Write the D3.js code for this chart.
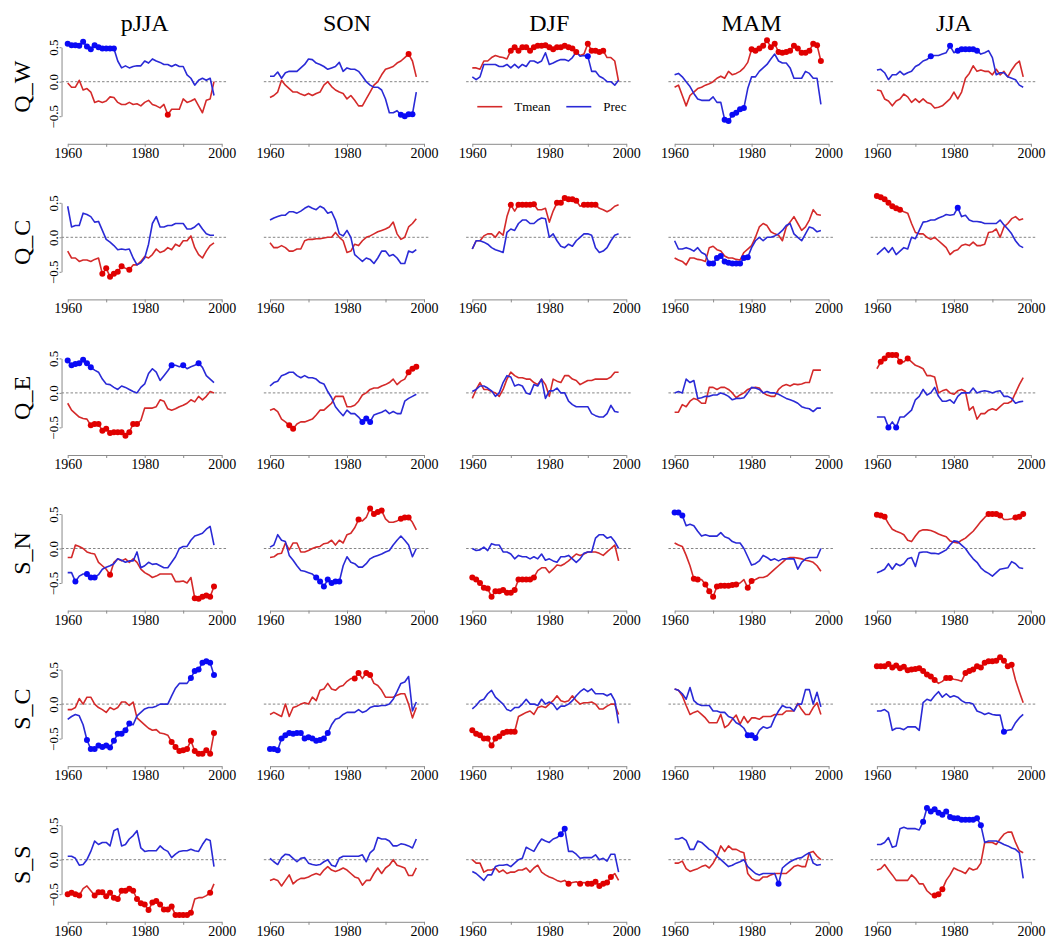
<!DOCTYPE html>
<html>
<head>
<meta charset="utf-8">
<script src="https://cdn.jsdelivr.net/npm/d3@7"></script>
<style>
  body { margin: 0; background: #fff; }
  svg { display: block; }
  text { font-family: "Liberation Serif", "DejaVu Serif", serif; }
</style>
</head>
<body>
<svg id="chart" width="1051" height="943"></svg>
<script>
// Moving correlations of regional indices with seasonal Tmean and precipitation, 1960-1998
const seasons = ["pJJA", "SON", "DJF", "MAM", "JJA"];
const regions = ["Q_W", "Q_C", "Q_E", "S_N", "S_C", "S_S"];
const years = [1960,1961,1962,1963,1964,1965,1966,1967,1968,1969,
               1970,1971,1972,1973,1974,1975,1976,1977,1978,1979,
               1980,1981,1982,1983,1984,1985,1986,1987,1988,1989,
               1990,1991,1992,1993,1994,1995,1996,1997,1998];
const xTicks = [1960, 1970, 1980, 1990, 2000];
const xTickLabels = [1960, 1980, 2000];
const yTicks = [-0.5, 0.0, 0.5];

// ---- Q_W ----
const tmeanQW = [
  [-0.02,-0.08,-0.08,0.02,-0.12,-0.10,-0.15,-0.30,-0.28,-0.30, -0.28,-0.22,-0.23,-0.30,-0.33,-0.33,-0.30,-0.33,-0.32,-0.35, -0.30,-0.27,-0.33,-0.35,-0.38,-0.33,-0.48,-0.40,-0.40,-0.40, -0.25,-0.30,-0.28,-0.25,-0.35,-0.45,-0.27,-0.25,0.00],
  [-0.23,-0.20,-0.15,0.02,-0.05,-0.10,-0.15,-0.15,-0.18,-0.20, -0.17,-0.20,-0.17,-0.15,-0.05,0.00,-0.07,-0.12,-0.15,-0.17, -0.25,-0.20,-0.27,-0.35,-0.35,-0.25,-0.15,-0.05,0.00,0.10, 0.18,0.20,0.22,0.27,0.30,0.35,0.40,0.30,0.07],
  [0.20,0.20,0.18,0.30,0.30,0.35,0.38,0.36,0.35,0.33, 0.45,0.50,0.45,0.50,0.50,0.45,0.50,0.52,0.52,0.53, 0.50,0.47,0.50,0.50,0.52,0.50,0.48,0.43,0.38,0.40, 0.55,0.45,0.45,0.43,0.45,0.35,0.35,0.30,0.00],
  [-0.08,-0.05,-0.20,-0.35,-0.20,-0.15,-0.10,-0.08,-0.05,-0.03, 0.00,0.05,0.08,0.05,0.15,0.10,0.12,0.15,0.20,0.28, 0.47,0.45,0.48,0.52,0.60,0.50,0.55,0.43,0.42,0.43, 0.45,0.52,0.48,0.42,0.42,0.45,0.55,0.53,0.30],
  [-0.12,-0.13,-0.25,-0.28,-0.35,-0.28,-0.25,-0.18,-0.22,-0.30, -0.25,-0.30,-0.25,-0.30,-0.32,-0.38,-0.37,-0.35,-0.30,-0.25, -0.15,-0.25,-0.15,0.05,0.12,0.23,0.15,0.17,0.15,0.15, 0.10,0.18,0.10,0.15,0.07,0.17,0.25,0.30,0.07]
];
const precQW = [
  [0.55,0.53,0.53,0.52,0.58,0.51,0.47,0.53,0.50,0.48, 0.48,0.48,0.48,0.30,0.20,0.23,0.20,0.22,0.23,0.23, 0.30,0.27,0.33,0.30,0.28,0.25,0.25,0.22,0.25,0.22, 0.22,0.10,0.05,-0.05,0.02,0.05,0.02,0.05,-0.20],
  [0.08,0.08,0.14,0.05,0.13,0.15,0.15,0.15,0.20,0.25, 0.33,0.32,0.27,0.25,0.22,0.18,0.20,0.22,0.28,0.15, 0.20,0.18,0.18,0.15,0.08,0.00,-0.05,-0.08,-0.08,-0.12, -0.25,-0.45,-0.45,-0.42,-0.48,-0.50,-0.47,-0.47,-0.15],
  [0.07,0.03,0.07,0.25,0.25,0.25,0.25,0.22,0.22,0.25, 0.20,0.25,0.20,0.25,0.22,0.30,0.30,0.27,0.30,0.42, 0.25,0.27,0.30,0.32,0.32,0.30,0.35,0.43,0.37,0.38, 0.37,0.15,0.15,0.08,0.05,0.00,0.00,-0.05,0.02],
  [0.10,0.12,0.07,0.00,-0.07,-0.17,-0.25,-0.27,-0.27,-0.27, -0.22,-0.30,-0.30,-0.55,-0.57,-0.48,-0.45,-0.40,-0.38,-0.10, 0.07,0.07,0.15,0.20,0.25,0.33,0.40,0.30,0.27,0.27, 0.20,0.05,0.05,0.05,0.15,0.12,0.05,0.05,-0.33],
  [0.17,0.18,0.13,0.03,0.10,0.10,0.15,0.10,0.13,0.15, 0.22,0.25,0.30,0.32,0.37,0.38,0.38,0.40,0.42,0.52, 0.42,0.45,0.47,0.47,0.47,0.47,0.45,0.40,0.42,0.45, 0.35,0.10,0.13,0.13,0.07,0.05,0.03,-0.05,-0.08]
];
const sigTmeanQW = [
  [1986],
  [1996],
  [1970,1971,1972,1973,1974,1975,1976,1977,1978,1979,1980,1981,1982,1983,1984,1985,1986,1987,1990,1991,1992,1993,1994],
  [1980,1981,1982,1983,1984,1985,1986,1987,1988,1989,1990,1991,1992,1993,1994,1995,1996,1997,1998],
  []
];
const sigPrecQW = [
  [1960,1961,1962,1963,1964,1965,1966,1967,1968,1969,1970,1971,1972],
  [1994,1995,1996,1997],
  [1990],
  [1973,1974,1975,1976,1977,1978],
  [1974,1979,1981,1982,1983,1984,1985,1986]
];

// ---- Q_C ----
const tmeanQC = [
  [-0.20,-0.30,-0.30,-0.35,-0.33,-0.33,-0.35,-0.32,-0.30,-0.53, -0.45,-0.57,-0.53,-0.50,-0.42,-0.45,-0.47,-0.40,-0.40,-0.35, -0.28,-0.30,-0.25,-0.17,-0.22,-0.20,-0.15,-0.18,-0.10,-0.13, -0.05,-0.05,0.02,-0.15,-0.25,-0.30,-0.20,-0.12,-0.08],
  [-0.08,-0.15,-0.15,-0.12,-0.15,-0.20,-0.20,-0.17,-0.17,-0.05, -0.03,-0.03,-0.02,-0.02,-0.01,0.00,0.00,0.07,0.00,-0.05, -0.22,-0.20,-0.10,-0.12,-0.05,0.00,0.02,0.05,0.08,0.10, 0.12,0.15,0.22,0.05,-0.03,0.00,0.15,0.20,0.27],
  [-0.17,-0.05,-0.05,0.02,0.05,0.05,0.00,0.08,0.03,0.30, 0.47,0.38,0.47,0.47,0.47,0.47,0.48,0.40,0.40,0.42, 0.22,0.38,0.50,0.50,0.57,0.55,0.55,0.53,0.45,0.47, 0.47,0.47,0.47,0.42,0.40,0.37,0.40,0.45,0.47],
  [-0.30,-0.33,-0.35,-0.40,-0.30,-0.30,-0.32,-0.33,-0.35,-0.15, -0.13,-0.18,-0.20,-0.27,-0.30,-0.30,-0.32,-0.33,-0.22,-0.17, -0.12,0.00,0.15,0.20,0.17,0.08,0.05,0.03,-0.05,0.15, 0.22,0.30,0.20,0.10,0.15,0.25,0.40,0.33,0.32],
  [0.60,0.58,0.55,0.50,0.45,0.42,0.40,0.37,0.35,0.20, 0.07,0.05,0.05,0.00,-0.03,0.00,-0.05,-0.10,-0.15,-0.25, -0.20,-0.18,-0.12,-0.10,-0.12,-0.07,-0.12,-0.12,-0.10,0.07, 0.08,0.12,0.00,0.15,0.20,0.27,0.30,0.25,0.27]
];
const precQC = [
  [0.45,0.15,0.17,0.17,0.35,0.33,0.30,0.22,0.23,0.10, -0.03,-0.07,-0.12,-0.18,-0.17,-0.18,-0.17,-0.30,-0.40,-0.37, -0.30,-0.10,0.20,0.30,0.15,0.15,0.17,0.17,0.20,0.20, 0.20,0.12,0.12,0.15,0.20,0.12,0.05,0.03,0.03],
  [0.25,0.28,0.30,0.32,0.32,0.37,0.37,0.35,0.38,0.42, 0.45,0.42,0.40,0.45,0.42,0.35,0.37,0.25,0.05,0.02, 0.10,0.00,-0.25,-0.30,-0.35,-0.30,-0.32,-0.38,-0.30,-0.20, -0.20,-0.27,-0.25,-0.30,-0.38,-0.38,-0.20,-0.22,-0.18],
  [-0.17,-0.05,-0.05,-0.07,-0.10,-0.15,-0.18,-0.20,-0.22,0.07, 0.12,0.10,0.20,0.25,0.25,0.20,0.20,0.25,0.28,0.27, 0.00,0.05,-0.05,-0.13,-0.15,-0.10,-0.13,-0.05,0.00,0.05, 0.05,0.03,-0.15,-0.22,-0.20,-0.15,-0.05,0.03,0.05],
  [-0.05,-0.17,-0.17,-0.15,-0.17,-0.20,-0.15,-0.22,-0.25,-0.38, -0.38,-0.30,-0.27,-0.35,-0.37,-0.38,-0.38,-0.38,-0.30,-0.29, -0.15,-0.05,0.00,-0.05,0.00,0.00,0.02,0.05,0.10,0.17, 0.20,0.05,0.00,-0.05,0.05,0.15,0.13,0.08,0.10],
  [-0.25,-0.20,-0.15,-0.22,-0.15,-0.25,-0.20,-0.15,-0.17,0.00, -0.02,0.10,0.22,0.23,0.25,0.25,0.28,0.30,0.33,0.32, 0.33,0.43,0.30,0.32,0.25,0.23,0.23,0.22,0.20,0.20, 0.20,0.20,0.25,0.18,0.12,0.05,-0.05,-0.12,-0.15]
];
const sigTmeanQC = [
  [1969,1970,1971,1972,1973,1974,1976],
  [],
  [1970,1972,1973,1974,1975,1976,1982,1983,1984,1985,1986,1987,1989,1990,1991,1992],
  [],
  [1960,1961,1962,1963,1964,1965,1966]
];
const sigPrecQC = [
  [],
  [],
  [],
  [1969,1970,1971,1972,1973,1974,1975,1976,1977,1978,1979],
  [1981]
];

// ---- Q_E ----
const tmeanQE = [
  [-0.15,-0.25,-0.30,-0.35,-0.37,-0.38,-0.47,-0.45,-0.45,-0.55, -0.52,-0.58,-0.57,-0.57,-0.57,-0.62,-0.57,-0.45,-0.45,-0.40, -0.22,-0.22,-0.22,-0.20,-0.10,-0.12,-0.23,-0.25,-0.23,-0.20, -0.18,-0.15,-0.10,-0.13,-0.05,-0.10,-0.05,0.02,0.00],
  [-0.25,-0.23,-0.27,-0.38,-0.42,-0.47,-0.52,-0.45,-0.42,-0.42, -0.40,-0.38,-0.32,-0.25,-0.25,-0.20,-0.15,-0.05,-0.05,-0.05, -0.20,-0.20,-0.18,-0.12,-0.03,0.00,0.05,0.07,0.07,0.10, 0.12,0.15,0.20,0.12,0.17,0.20,0.30,0.35,0.38],
  [-0.08,0.05,0.15,0.05,0.05,0.02,0.00,-0.05,0.05,0.20, 0.30,0.25,0.22,0.22,0.20,0.20,0.15,0.12,0.20,0.12, -0.05,0.20,0.17,0.15,0.25,0.25,0.20,0.18,0.12,0.15, 0.18,0.18,0.20,0.20,0.20,0.20,0.23,0.30,0.30],
  [-0.28,-0.28,-0.17,-0.20,-0.12,-0.08,-0.10,-0.15,-0.15,0.08, 0.08,0.05,0.08,0.08,0.05,0.00,-0.07,-0.03,0.00,0.05, 0.07,0.08,0.07,0.00,-0.03,-0.05,-0.05,0.05,0.10,0.12, 0.10,0.13,0.12,0.13,0.15,0.15,0.33,0.33,0.33],
  [0.35,0.45,0.50,0.55,0.55,0.55,0.45,0.45,0.50,0.45, 0.40,0.38,0.35,0.25,0.25,0.23,0.00,0.03,0.05,0.00, -0.02,0.03,0.05,0.02,-0.25,-0.20,-0.38,-0.30,-0.30,-0.25, -0.23,-0.25,-0.20,-0.15,-0.15,-0.12,0.00,0.12,0.22]
];
const precQE = [
  [0.47,0.40,0.42,0.43,0.48,0.43,0.37,0.33,0.30,0.20, 0.13,0.12,0.08,0.05,0.10,0.08,0.05,0.02,0.00,0.08, 0.13,0.28,0.35,0.30,0.18,0.25,0.32,0.40,0.40,0.38, 0.40,0.35,0.38,0.40,0.43,0.37,0.25,0.20,0.15],
  [0.10,0.15,0.17,0.25,0.27,0.30,0.30,0.25,0.22,0.25, 0.22,0.22,0.20,0.15,0.13,0.02,-0.07,-0.20,-0.27,-0.33, -0.25,-0.30,-0.30,-0.35,-0.42,-0.37,-0.42,-0.32,-0.30,-0.28, -0.25,-0.30,-0.27,-0.30,-0.30,-0.12,-0.08,-0.05,-0.02],
  [0.02,0.05,0.10,0.10,0.07,0.03,-0.05,0.00,0.15,0.25, 0.23,0.10,0.12,0.10,0.00,-0.02,0.12,0.10,0.20,-0.08, 0.03,0.03,0.07,0.00,0.00,-0.12,-0.17,-0.20,-0.20,-0.20, -0.20,-0.30,-0.33,-0.35,-0.35,-0.30,-0.18,-0.27,-0.28],
  [0.00,0.02,0.00,0.20,0.15,0.18,-0.08,-0.07,-0.05,-0.05, -0.03,-0.03,0.00,-0.02,-0.05,-0.10,-0.08,-0.08,-0.07,0.00, 0.08,0.07,0.05,0.00,0.02,0.00,0.00,-0.02,-0.05,-0.08, -0.10,-0.12,-0.15,-0.20,-0.22,-0.23,-0.27,-0.22,-0.22],
  [-0.35,-0.35,-0.35,-0.50,-0.42,-0.50,-0.35,-0.35,-0.30,-0.25, -0.10,-0.05,0.05,-0.03,0.00,0.08,-0.05,-0.12,-0.12,-0.10, -0.15,-0.05,0.00,0.00,0.00,0.07,0.00,0.02,0.03,0.02, 0.00,0.02,0.03,-0.05,-0.05,-0.08,-0.15,-0.13,-0.12]
];
const sigTmeanQE = [
  [1966,1967,1968,1969,1970,1971,1972,1973,1974,1975,1976,1977,1978],
  [1965,1966,1996,1997,1998],
  [],
  [],
  [1961,1962,1963,1964,1965,1966,1968]
];
const sigPrecQE = [
  [1960,1961,1962,1963,1964,1965,1966,1987,1990,1994],
  [1984,1985,1986],
  [],
  [],
  [1963,1965]
];

// ---- S_N ----
const tmeanSN = [
  [-0.13,-0.13,0.05,0.03,0.00,-0.05,-0.07,-0.08,-0.20,-0.25, -0.30,-0.38,-0.20,-0.15,-0.18,-0.15,-0.20,-0.15,-0.20,-0.30, -0.35,-0.38,-0.42,-0.40,-0.37,-0.37,-0.37,-0.37,-0.48,-0.48, -0.47,-0.50,-0.42,-0.72,-0.73,-0.70,-0.68,-0.70,-0.55],
  [-0.13,-0.12,-0.08,-0.07,0.08,-0.02,0.08,0.08,-0.05,-0.05, -0.03,0.00,0.02,0.03,0.07,0.08,0.12,0.05,0.12,0.08, 0.20,0.22,0.30,0.42,0.40,0.45,0.58,0.50,0.53,0.55, 0.43,0.38,0.38,0.40,0.43,0.45,0.45,0.38,0.27],
  [-0.42,-0.45,-0.50,-0.57,-0.58,-0.70,-0.62,-0.62,-0.60,-0.64, -0.64,-0.60,-0.45,-0.45,-0.45,-0.45,-0.42,-0.32,-0.28,-0.28, -0.35,-0.30,-0.24,-0.25,-0.22,-0.18,-0.13,-0.08,-0.10,-0.08, -0.05,-0.05,-0.05,-0.07,-0.10,-0.05,0.00,0.05,-0.18],
  [0.08,0.05,0.03,-0.10,-0.25,-0.44,-0.45,-0.45,-0.52,-0.62, -0.70,-0.55,-0.54,-0.54,-0.54,-0.53,-0.52,-0.50,-0.45,-0.57, -0.47,-0.45,-0.42,-0.42,-0.40,-0.35,-0.30,-0.25,-0.20,-0.15, -0.13,-0.13,-0.14,-0.15,-0.17,-0.18,-0.20,-0.25,-0.33],
  [0.49,0.48,0.46,0.36,0.28,0.25,0.23,0.20,0.12,0.10, 0.18,0.25,0.27,0.27,0.26,0.24,0.21,0.19,0.17,0.11, 0.09,0.08,0.12,0.15,0.20,0.25,0.32,0.39,0.45,0.50, 0.50,0.50,0.48,0.42,0.42,0.43,0.45,0.46,0.50]
];
const precSN = [
  [-0.35,-0.35,-0.48,-0.40,-0.37,-0.37,-0.42,-0.42,-0.38,-0.30, -0.27,-0.25,-0.22,-0.15,-0.17,-0.20,-0.18,-0.18,-0.05,-0.28, -0.25,-0.20,-0.23,-0.22,-0.25,-0.28,-0.28,-0.20,-0.12,0.00, 0.03,0.03,0.12,0.18,0.20,0.22,0.28,0.32,0.05],
  [0.02,0.05,0.20,0.12,0.10,-0.10,-0.17,-0.25,-0.32,-0.33, -0.35,-0.37,-0.42,-0.48,-0.55,-0.45,-0.50,-0.48,-0.48,-0.25, -0.12,-0.20,-0.22,-0.27,-0.27,-0.22,-0.15,-0.12,-0.10,-0.08, -0.05,-0.03,0.05,0.12,0.18,0.12,0.05,-0.12,0.00],
  [0.00,-0.03,-0.02,0.02,-0.03,0.07,0.05,0.05,-0.05,-0.05, -0.08,-0.15,-0.10,-0.12,-0.12,-0.15,-0.12,-0.15,-0.08,-0.17, -0.15,-0.18,-0.20,-0.12,-0.12,-0.10,-0.15,-0.20,-0.15,-0.07, -0.05,-0.05,0.15,0.20,0.20,0.15,0.17,0.10,0.00],
  [0.52,0.52,0.48,0.33,0.35,0.33,0.25,0.18,0.20,0.18, 0.18,0.18,0.23,0.17,0.15,0.10,0.08,0.08,0.00,-0.12, -0.24,-0.22,-0.18,-0.10,-0.13,-0.17,-0.15,-0.18,-0.15,-0.15, -0.15,-0.15,-0.30,-0.20,-0.15,-0.13,-0.13,-0.13,0.00],
  [-0.35,-0.33,-0.30,-0.22,-0.30,-0.22,-0.25,-0.22,-0.15,-0.13, -0.26,-0.06,-0.05,-0.05,-0.07,-0.07,-0.08,-0.05,-0.02,0.05, 0.11,0.10,0.05,0.00,-0.08,-0.15,-0.20,-0.28,-0.33,-0.36, -0.40,-0.35,-0.30,-0.29,-0.28,-0.19,-0.22,-0.28,-0.29]
];
const sigTmeanSN = [
  [1971,1993,1994,1995,1996,1997,1998],
  [1983,1986,1987,1988,1989,1994,1995,1996],
  [1960,1961,1962,1963,1964,1965,1966,1967,1968,1969,1970,1971,1972,1973,1974,1975,1976],
  [1965,1966,1968,1969,1970,1971,1972,1973,1974,1975,1976,1979,1980],
  [1960,1961,1962,1989,1990,1991,1992,1996,1997,1998]
];
const sigPrecSN = [
  [1962,1965,1966,1967],
  [1972,1973,1974,1975,1976,1977,1978],
  [],
  [1960,1961,1962],
  []
];

// ---- S_C ----
const tmeanSC = [
  [-0.08,-0.08,-0.05,0.08,0.00,0.10,0.10,0.00,-0.05,-0.08, -0.12,-0.05,-0.08,-0.05,0.03,0.03,-0.02,0.03,-0.20,-0.25, -0.30,-0.35,-0.38,-0.37,-0.42,-0.43,-0.45,-0.55,-0.62,-0.68, -0.67,-0.65,-0.53,-0.68,-0.72,-0.72,-0.67,-0.72,-0.42],
  [-0.15,-0.12,-0.15,-0.18,0.00,-0.18,-0.05,-0.03,0.00,0.02, 0.00,0.10,0.05,0.20,0.22,0.30,0.22,0.20,0.25,0.27, 0.33,0.37,0.37,0.45,0.37,0.45,0.42,0.30,0.27,0.20, 0.10,0.10,0.10,0.13,0.15,0.15,0.00,-0.20,-0.05],
  [-0.38,-0.43,-0.45,-0.50,-0.50,-0.60,-0.50,-0.47,-0.42,-0.40, -0.40,-0.40,-0.18,-0.15,-0.12,-0.10,-0.15,-0.05,-0.03,-0.05, 0.00,0.05,0.12,0.05,0.03,0.05,0.12,0.05,0.00,0.02, 0.02,0.03,0.00,-0.07,-0.07,-0.03,0.00,0.00,-0.15],
  [0.22,0.20,0.12,-0.02,-0.15,-0.12,-0.10,-0.15,-0.20,-0.27, -0.27,-0.27,-0.15,-0.34,-0.30,-0.22,-0.16,-0.29,-0.18,-0.27, -0.20,-0.20,-0.22,-0.18,-0.18,-0.18,-0.15,-0.15,-0.15,-0.10, -0.10,-0.10,0.01,-0.08,-0.15,-0.15,-0.05,0.02,-0.15],
  [0.55,0.55,0.55,0.58,0.53,0.56,0.52,0.54,0.49,0.50, 0.51,0.52,0.48,0.43,0.40,0.35,0.30,0.33,0.38,0.38, 0.36,0.35,0.33,0.45,0.48,0.50,0.55,0.53,0.60,0.62, 0.62,0.63,0.68,0.63,0.55,0.57,0.35,0.18,0.02]
];
const precSC = [
  [-0.22,-0.18,-0.15,-0.17,-0.30,-0.52,-0.65,-0.65,-0.60,-0.62, -0.60,-0.63,-0.53,-0.43,-0.43,-0.38,-0.28,-0.30,-0.17,-0.12, -0.07,-0.05,-0.05,-0.03,0.00,0.00,0.00,0.12,0.23,0.30, 0.30,0.30,0.38,0.48,0.50,0.60,0.62,0.60,0.42],
  [-0.65,-0.65,-0.67,-0.50,-0.45,-0.42,-0.43,-0.42,-0.42,-0.50, -0.48,-0.50,-0.53,-0.52,-0.50,-0.42,-0.30,-0.22,-0.20,-0.15, -0.12,-0.12,-0.12,-0.08,-0.12,-0.10,-0.05,-0.03,-0.03,-0.02, -0.02,0.00,0.07,0.18,0.30,0.32,0.40,-0.10,0.03],
  [-0.07,-0.02,0.05,0.07,0.15,0.20,0.10,0.05,0.00,-0.08, -0.10,-0.05,-0.05,0.00,0.07,0.00,0.00,-0.02,0.07,0.00, 0.03,0.00,-0.08,-0.03,-0.03,0.00,0.05,0.12,0.18,0.22, 0.18,0.22,0.15,0.15,0.15,0.12,0.15,0.05,-0.28],
  [0.22,0.20,0.15,0.07,0.24,0.05,0.00,-0.02,-0.02,-0.02, -0.10,-0.10,-0.12,-0.12,-0.18,-0.20,-0.27,-0.30,-0.35,-0.45, -0.45,-0.49,-0.38,-0.33,-0.35,-0.33,-0.20,-0.10,-0.02,-0.05, -0.05,-0.10,0.00,0.00,0.21,0.21,0.00,0.17,-0.04],
  [-0.10,-0.10,-0.08,-0.12,-0.38,-0.35,-0.35,-0.37,-0.33,-0.33, -0.33,-0.38,0.02,0.07,0.05,0.12,0.18,0.10,0.15,0.10, 0.12,0.10,0.05,0.02,0.02,0.00,-0.10,-0.12,-0.15,-0.13, -0.15,-0.16,-0.16,-0.40,-0.38,-0.37,-0.27,-0.20,-0.15]
];
const sigTmeanSC = [
  [1987,1988,1989,1990,1991,1992,1993,1994,1995,1996,1997,1998],
  [1982,1983,1985,1986],
  [1960,1961,1962,1963,1964,1965,1966,1967,1968,1969,1970,1971],
  [],
  [1960,1961,1962,1963,1964,1965,1966,1967,1968,1969,1970,1971,1972,1973,1974,1975,1978,1979,1983,1984,1985,1986,1987,1988,1989,1990,1991,1992,1993,1994,1995]
];
const sigPrecSC = [
  [1965,1966,1967,1968,1969,1970,1971,1972,1973,1974,1975,1976,1992,1993,1994,1995,1996,1997,1998],
  [1960,1961,1962,1963,1964,1965,1966,1967,1968,1969,1970,1971,1972,1973,1974,1975],
  [],
  [1979,1980,1981],
  [1993]
];

// ---- S_S ----
const tmeanSS = [
  [-0.50,-0.48,-0.50,-0.52,-0.42,-0.38,-0.45,-0.52,-0.47,-0.47, -0.53,-0.48,-0.55,-0.57,-0.45,-0.45,-0.42,-0.45,-0.57,-0.63, -0.65,-0.73,-0.62,-0.60,-0.65,-0.72,-0.72,-0.68,-0.80,-0.80, -0.80,-0.80,-0.77,-0.57,-0.55,-0.55,-0.52,-0.48,-0.35],
  [-0.30,-0.28,-0.30,-0.38,-0.30,-0.22,-0.35,-0.30,-0.27,-0.27, -0.25,-0.22,-0.20,-0.22,-0.15,-0.10,-0.15,-0.17,-0.15,-0.12, -0.15,-0.20,-0.25,-0.27,-0.37,-0.30,-0.30,-0.20,-0.12,-0.20, -0.12,-0.08,0.00,-0.08,-0.10,-0.12,-0.23,-0.23,-0.12],
  [0.00,-0.05,-0.05,-0.18,-0.15,-0.15,-0.12,-0.18,-0.15,-0.20, -0.18,-0.18,-0.15,-0.15,-0.12,-0.18,-0.12,-0.08,-0.18,-0.22, -0.25,-0.27,-0.30,-0.32,-0.30,-0.35,-0.33,-0.32,-0.35,-0.33, -0.35,-0.35,-0.32,-0.38,-0.35,-0.33,-0.25,-0.20,-0.30],
  [-0.05,-0.05,-0.02,-0.13,-0.17,-0.15,-0.13,-0.10,-0.08,-0.12, -0.05,0.05,0.20,0.12,0.20,0.15,0.15,0.12,0.10,-0.20, -0.27,-0.30,-0.30,-0.25,-0.25,-0.22,-0.20,-0.20,-0.20,-0.20, -0.15,-0.10,-0.08,-0.10,-0.10,0.10,0.12,0.05,0.00],
  [-0.15,-0.13,-0.07,-0.15,-0.22,-0.30,-0.30,-0.30,-0.30,-0.22, -0.27,-0.35,-0.35,-0.45,-0.50,-0.52,-0.50,-0.43,-0.30,-0.22, -0.12,-0.15,-0.17,-0.20,-0.12,-0.15,-0.13,-0.05,0.25,0.25, 0.25,0.22,0.30,0.37,0.40,0.40,0.25,0.13,0.10]
];
const precSS = [
  [0.05,0.05,0.02,-0.08,-0.07,0.00,0.12,0.27,0.22,0.25, 0.25,0.20,0.42,0.45,0.20,0.22,0.30,0.35,0.42,0.17, 0.12,0.13,0.13,0.13,0.20,0.15,0.12,0.03,0.08,0.12, 0.13,0.13,0.15,0.13,0.12,0.22,0.30,0.28,-0.10],
  [0.02,-0.03,-0.07,0.03,0.08,0.07,0.02,-0.03,0.02,0.03, -0.05,-0.07,-0.08,-0.07,-0.03,0.00,-0.08,-0.10,0.02,0.05, 0.05,0.05,0.05,0.05,0.07,-0.03,0.10,0.15,0.32,0.30, 0.30,0.27,0.20,0.20,0.23,0.22,0.20,0.17,0.30],
  [-0.17,-0.20,-0.25,-0.30,-0.22,-0.22,-0.10,-0.08,-0.08,-0.07, -0.10,-0.05,0.00,0.02,0.18,0.15,0.12,0.22,0.30,0.27, 0.25,0.30,0.32,0.37,0.45,0.12,0.12,0.08,0.02,0.03, 0.03,0.03,0.07,0.00,0.02,-0.02,0.08,0.08,-0.18],
  [0.30,0.30,0.32,0.28,0.15,0.15,0.27,0.25,0.20,0.15, 0.12,0.05,0.00,-0.05,-0.10,-0.08,-0.05,-0.03,0.00,-0.10, -0.15,-0.20,-0.22,-0.20,-0.20,-0.20,-0.20,-0.35,-0.12,-0.07, -0.03,0.00,0.02,0.03,0.07,0.10,-0.05,-0.08,-0.07],
  [0.22,0.22,0.25,0.32,0.18,0.20,0.45,0.47,0.45,0.45, 0.45,0.43,0.55,0.75,0.70,0.73,0.68,0.65,0.70,0.62, 0.60,0.60,0.58,0.58,0.58,0.58,0.60,0.50,0.25,0.27, 0.27,0.27,0.25,0.22,0.20,0.17,0.15,0.10,-0.27]
];
const sigTmeanSS = [
  [1960,1961,1962,1963,1967,1968,1969,1970,1971,1972,1973,1974,1975,1976,1977,1978,1979,1980,1981,1982,1983,1984,1985,1986,1987,1988,1989,1990,1991,1992,1997],
  [],
  [1985,1988,1990,1991,1992,1993,1994,1995,1996],
  [],
  [1975,1976,1977]
];
const sigPrecSS = [
  [],
  [],
  [1983,1984],
  [1987],
  [1972,1973,1974,1975,1976,1977,1978,1979,1980,1981,1982,1983,1984,1985,1986,1987]
];

const tmeanRows = [tmeanQW, tmeanQC, tmeanQE, tmeanSN, tmeanSC, tmeanSS];
const precRows = [precQW, precQC, precQE, precSN, precSC, precSS];
const sigTmeanRows = [sigTmeanQW, sigTmeanQC, sigTmeanQE, sigTmeanSN, sigTmeanSC, sigTmeanSS];
const sigPrecRows = [sigPrecQW, sigPrecQC, sigPrecQE, sigPrecSN, sigPrecSC, sigPrecSS];

// ---- layout ----
const colLeft = 67.7, colStep = 202.3, panelW = 154;
const rowZero = 81.7, rowStep = 155.6, halfUnit = 34.5;
const red = "#d42a2a", blue = "#2a2ad6";
const redDot = "#e00000", blueDot = "#0a0af5";
const axisGrey = "#8a8a8a";

const svg = d3.select("#chart");

function styleAxis(g) {
  g.select(".domain").attr("stroke", axisGrey).attr("stroke-width", 1);
  g.selectAll(".tick line").attr("stroke", axisGrey);
  g.attr("font-family", null).attr("font-size", null);
  g.selectAll("text").attr("fill", "#000").style("font-size", "14px");
}

regions.forEach((region, r) => {
  const zero = rowZero + r * rowStep;

  seasons.forEach((season, c) => {
    const x0 = colLeft + c * colStep;
    const x = d3.scaleLinear().domain([1960, 2000]).range([x0, x0 + panelW]);
    const y = d3.scaleLinear().domain([-0.5, 0.5]).range([zero + halfUnit, zero - halfUnit]);
    const g = svg.append("g");

    // dotted zero reference
    g.append("line")
      .attr("x1", x(1958.4)).attr("x2", x(2001.6))
      .attr("y1", y(0)).attr("y2", y(0))
      .attr("stroke", "#777").attr("stroke-width", 0.9)
      .attr("stroke-dasharray", "2.5,2");

    // time axis
    g.append("g")
      .attr("transform", `translate(0,${y(-0.9)})`)
      .call(d3.axisBottom(x)
        .tickValues(xTicks)
        .tickFormat(d => xTickLabels.includes(d) ? d : "")
        .tickSize(3).tickSizeOuter(0).tickPadding(1))
      .call(styleAxis);

    // correlation axis on the first column only
    if (c === 0) {
      const ya = g.append("g")
        .attr("transform", `translate(${x(1958.4)},0)`)
        .call(d3.axisLeft(y).tickValues(yTicks).tickFormat(d3.format(".1f"))
          .tickSize(2).tickSizeOuter(0))
        .call(styleAxis);
      ya.selectAll(".tick text")
        .attr("x", 0).attr("y", -4).attr("dy", null)
        .attr("text-anchor", "middle")
        .attr("transform", "rotate(-90)")
        .style("font-size", "13px");

      svg.append("text")
        .attr("transform", `translate(30,${zero + 5}) rotate(-90)`)
        .attr("text-anchor", "middle")
        .style("font-size", "24px")
        .text(region);
    }

    if (r === 0) {
      svg.append("text")
        .attr("x", x0 + panelW / 2).attr("y", 31)
        .attr("text-anchor", "middle")
        .style("font-size", "24px")
        .text(season);
    }

    const line = d3.line().x((d, i) => x(years[i])).y(d => y(d));
    const tm = tmeanRows[r][c], pr = precRows[r][c];

    g.append("path").datum(tm).attr("d", line)
      .attr("fill", "none").attr("stroke", red).attr("stroke-width", 1.6)
      .attr("stroke-linejoin", "round");
    g.append("path").datum(pr).attr("d", line)
      .attr("fill", "none").attr("stroke", blue).attr("stroke-width", 1.6)
      .attr("stroke-linejoin", "round");

    const sigT = sigTmeanRows[r][c].map(yr => ({ yr, v: tm[years.indexOf(yr)] }));
    const sigP = sigPrecRows[r][c].map(yr => ({ yr, v: pr[years.indexOf(yr)] }));

    g.selectAll(".dotT").data(sigT).enter().append("circle")
      .attr("cx", d => x(d.yr)).attr("cy", d => y(d.v)).attr("r", 3)
      .attr("fill", redDot);
    g.selectAll(".dotP").data(sigP).enter().append("circle")
      .attr("cx", d => x(d.yr)).attr("cy", d => y(d.v)).attr("r", 3)
      .attr("fill", blueDot);

    // legend inside the top DJF panel
    if (r === 0 && c === 2) {
      const ly = zero + 25;
      const items = [
        { name: "Tmean", color: red, dx: 5 },
        { name: "Prec", color: blue, dx: 94 }
      ];
      items.forEach(it => {
        g.append("line")
          .attr("x1", x0 + it.dx).attr("x2", x0 + it.dx + 25)
          .attr("y1", ly).attr("y2", ly)
          .attr("stroke", it.color).attr("stroke-width", 1.6);
        g.append("text")
          .attr("x", x0 + it.dx + 37).attr("y", ly + 4.5)
          .style("font-size", "13px")
          .text(it.name);
      });
    }
  });
});
</script>
</body>
</html>
